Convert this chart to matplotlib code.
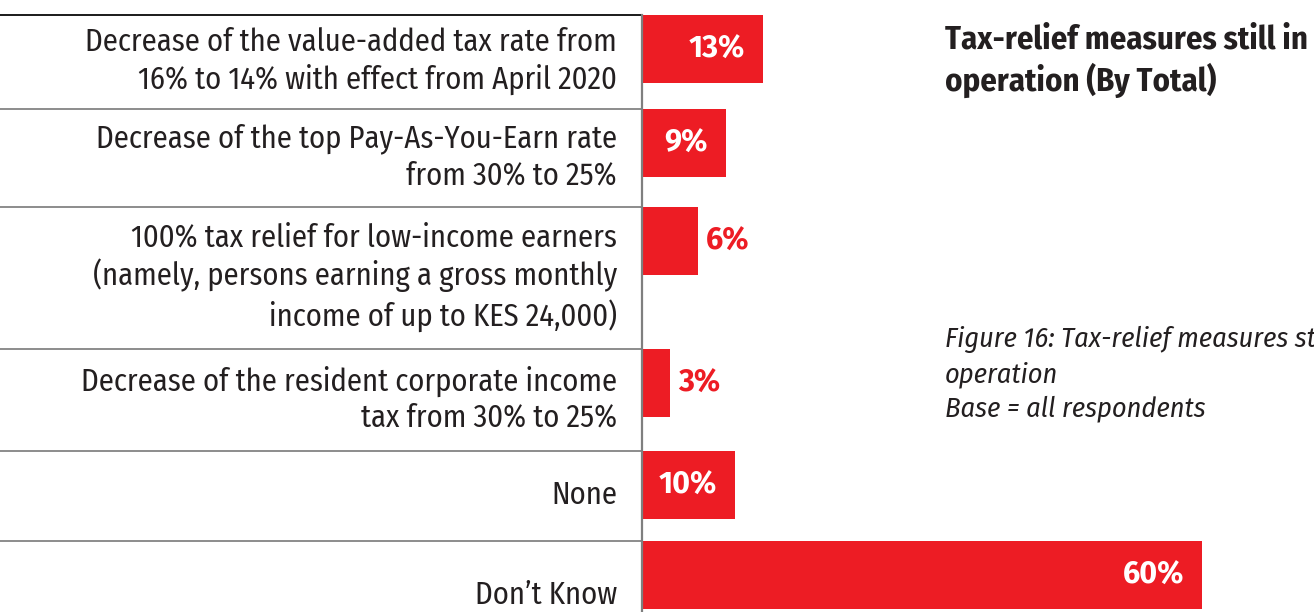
import matplotlib
matplotlib.use("Agg")
import matplotlib.pyplot as plt
from matplotlib.transforms import blended_transform_factory

# survey answers, top to bottom
labels = [
    "Decrease of the value-added tax rate from\n16% to 14% with effect from April 2020",
    "Decrease of the top Pay-As-You-Earn rate\nfrom 30% to 25%",
    "100% tax relief for low-income earners\n(namely, persons earning a gross monthly\nincome of up to KES 24,000)",
    "Decrease of the resident corporate income\ntax from 30% to 25%",
    "None",
    "Don\u2019t Know",
]
values = [13, 9, 6, 3, 10, 60]

title = "Tax-relief measures still in\noperation (By Total)"
caption = "Figure 16: Tax-relief measures still in\noperation\nBase = all respondents"

RED = "#ED1C24"
INK = "#231F20"
TEXT_FONT = ["Fira Sans Condensed", "Liberation Sans", "DejaVu Sans"]
NUM_FONT = ["Fira Sans", "Liberation Sans", "DejaVu Sans"]

# row heights in pixels (rows with more label lines are taller)
row_h = [94, 98, 142, 102, 90, 110]
bar_h = 68
top = 15

plt.rcParams["font.family"] = TEXT_FONT

W, H = 1314, 612
fig = plt.figure(figsize=(W / 100, H / 100), dpi=100)
ax = fig.add_axes([642 / W, 0, (W - 642) / W, 1])
px_per_pct = 560 / 60
ax.set_xlim(0, (W - 642) / px_per_pct)
ax.set_ylim(H, 0)
ax.axis("off")

tops = [top + sum(row_h[:i]) for i in range(len(row_h))]
centers = [t + bar_h / 2 for t in tops]
ax.barh(centers, values, height=bar_h, color=RED, zorder=2)

# vertical axis and row separators running across the label column
ax.plot([0, 0], [top, H], color="#7f7f7f", lw=1.6, clip_on=False, zorder=3)
ftrans = blended_transform_factory(fig.transFigure, ax.transData)
for i, t in enumerate(tops):
    ax.plot([0, 642 / W], [t, t], transform=ftrans, clip_on=False,
            color="#1a1a1a" if i == 0 else "#8c8c8c", lw=1.4)

for t, h, lab in zip(tops, row_h, labels):
    ax.text(617 / W, t + h / 2 - 1, lab, transform=ftrans, ha="right",
            va="center", fontsize=22, color=INK, linespacing=1.24)

# value labels: inside the bar when they fit, otherwise just past its end
vlabels = []
for c, v in zip(centers, values):
    a = ax.annotate(f"{v}%", (v, c + 1), xytext=(-13, 0), textcoords="offset points",
                    ha="right", va="center", color="white", fontsize=22,
                    fontweight="bold", family=NUM_FONT)
    vlabels.append(a)
fig.canvas.draw()
r = fig.canvas.get_renderer()
x0 = ax.transData.transform((0, 0))[0]
for a in vlabels:
    if a.get_window_extent(r).x0 < x0 + 4:
        a.set_ha("left")
        a.xyann = (6, 0)
        a.set_color(RED)

fig.text(945 / W, 1 - 61 / H, title, ha="left", va="center", fontsize=23.5,
         fontweight="bold", color=INK, linespacing=1.24)
fig.text(945 / W, 1 - 374 / H, caption, ha="left", va="center", fontsize=20.3,
         style="italic", color=INK, linespacing=1.35)

fig.savefig("out.png", dpi=100)
